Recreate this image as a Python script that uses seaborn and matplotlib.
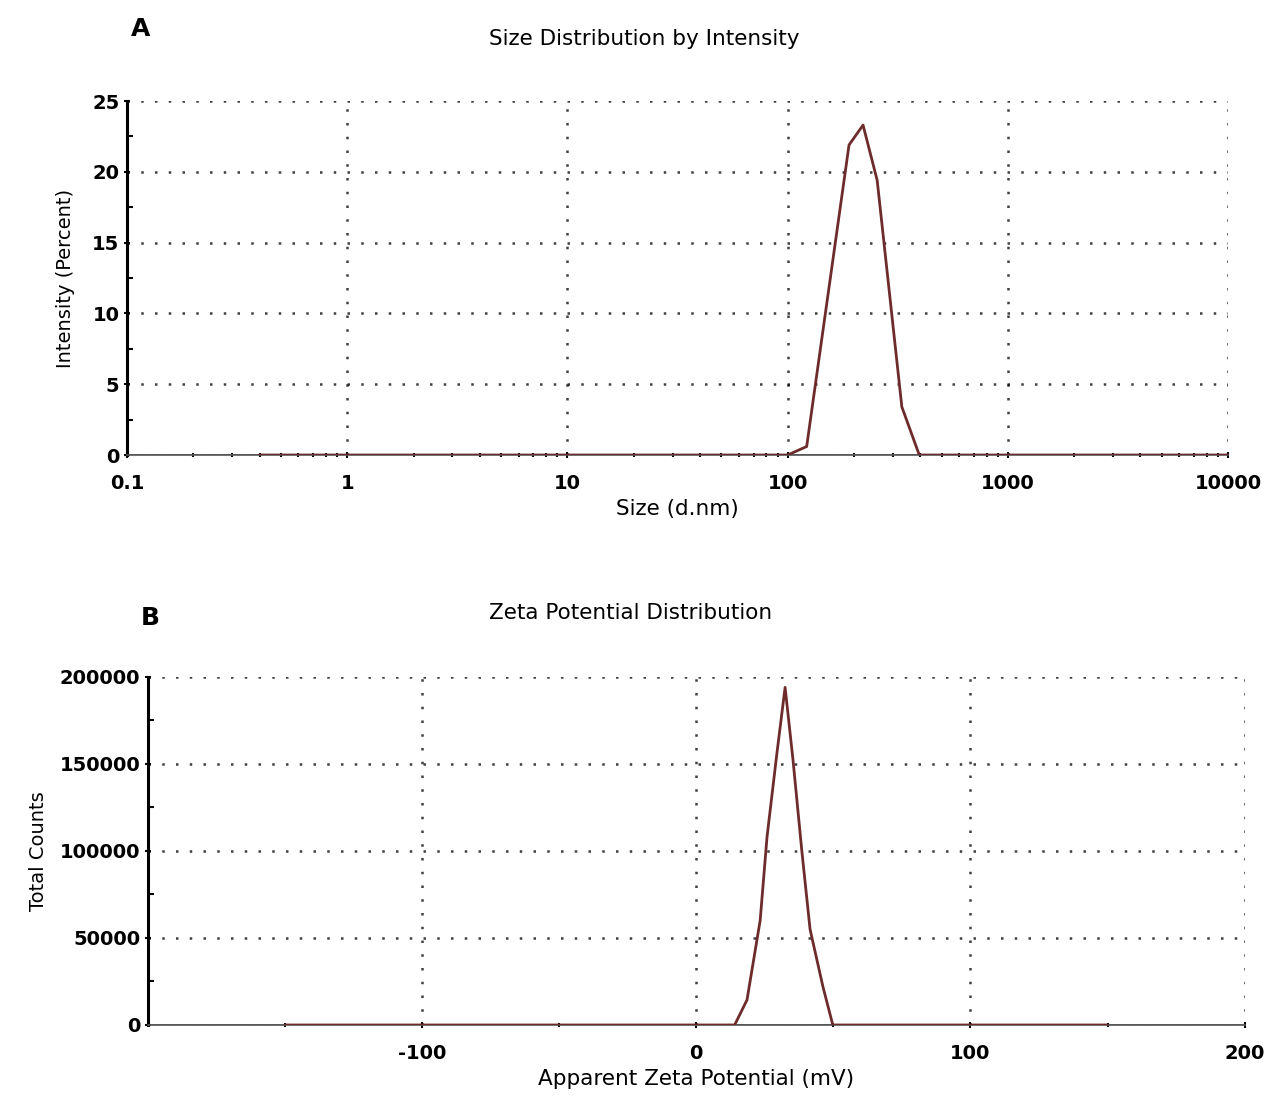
import numpy as np
import pandas as pd
import matplotlib
matplotlib.use("Agg")
import matplotlib.pyplot as plt
import seaborn as sns
from matplotlib.ticker import FixedLocator, NullFormatter

sns.set_style("white")
plt.rcParams['font.family'] = ['DejaVu Sans']
plt.rcParams['axes.unicode_minus'] = False
plt.rcParams['text.color'] = 'black'
plt.rcParams['axes.labelcolor'] = 'black'
plt.rcParams['xtick.color'] = 'black'
plt.rcParams['ytick.color'] = 'black'

# Panel A: size distribution by intensity
size_nm = [0.4, 100, 122, 190, 220, 255, 330, 396, 10000]
intensity_pct = [0, 0, 0.6, 21.9, 23.3, 19.4, 3.4, 0, 0]

# Panel B: zeta potential distribution
zeta_mv = [-150, 14, 18.5, 23.3, 25.8, 29.4, 32.4, 35.3, 38.5, 41.5, 46.2, 49.8, 150]
total_counts = [0, 0, 14400, 60000, 108000, 156000, 194000, 152000, 100000, 55000, 22000, 0, 0]

size_df = pd.DataFrame({'size': size_nm, 'intensity': intensity_pct})
zeta_df = pd.DataFrame({'zeta': zeta_mv, 'counts': total_counts})

line_col = '#6e2b2b'
grid_kw = dict(color='black', linestyle=(0, (1, 4.5)), linewidth=1.8, alpha=0.75)

fig = plt.figure(figsize=(12.7, 10.98), dpi=100)

# ---- A ----
ax1 = fig.add_axes([0.1, 0.5856, 0.867, 0.3224])
ax1.set_xscale('log')
ax1.axhline(0, color='#555555', lw=1.2, zorder=1)
sns.lineplot(data=size_df, x='size', y='intensity', ax=ax1, color=line_col,
             lw=2.0, zorder=3)
ax1.set_xlim(0.1, 10000)
ax1.set_ylim(0, 25)
ax1.set_xticks([0.1, 1, 10, 100, 1000, 10000])
ax1.set_xticklabels(['0.1', '1', '10', '100', '1000', '10000'])
ax1.xaxis.set_minor_locator(FixedLocator(
    [m * 10.0 ** e for e in range(-1, 4) for m in range(2, 10)]))
ax1.xaxis.set_minor_formatter(NullFormatter())
ax1.set_yticks([0, 5, 10, 15, 20, 25])
ax1.yaxis.set_minor_locator(FixedLocator(np.arange(2.5, 25, 5)))
ax1.grid(True, which='major', **grid_kw)
ax1.set_xlabel('Size (d.nm)', fontsize=15.5, labelpad=4)
ax1.set_ylabel('Intensity (Percent)', fontsize=14, labelpad=12)
ax1.set_title('Size Distribution by Intensity', fontsize=15.5, pad=40, x=0.47)

# ---- B ----
ax2 = fig.add_axes([0.1165, 0.0665, 0.8635, 0.317])
ax2.axhline(0, color='#555555', lw=1.2, zorder=1)
sns.lineplot(data=zeta_df, x='zeta', y='counts', ax=ax2, color=line_col,
             lw=2.0, zorder=3)
ax2.set_xlim(-200, 200)
ax2.set_ylim(0, 200000)
ax2.set_xticks([-100, 0, 100, 200])
ax2.xaxis.set_minor_locator(FixedLocator([-150, -50, 50, 150]))
ax2.set_yticks([0, 50000, 100000, 150000, 200000])
ax2.set_yticklabels(['0', '50000', '100000', '150000', '200000'])
ax2.yaxis.set_minor_locator(FixedLocator(np.arange(25000, 200000, 50000)))
ax2.grid(True, which='major', **grid_kw)
ax2.set_xlabel('Apparent Zeta Potential (mV)', fontsize=15.5, labelpad=4)
ax2.set_ylabel('Total Counts', fontsize=14, labelpad=8)
ax2.set_title('Zeta Potential Distribution', fontsize=15.5, pad=42, x=0.44)

for ax in (ax1, ax2):
    sns.despine(ax=ax)
    ax.spines['left'].set_linewidth(2.2)
    ax.spines['left'].set_color('black')
    ax.spines['bottom'].set_linewidth(1.2)
    ax.spines['bottom'].set_color('#555555')
    ax.tick_params(axis='both', which='both', bottom=True, left=True)
    ax.tick_params(axis='both', which='major', labelsize=14, length=4,
                   width=1.5, direction='inout', color='black')
    ax.tick_params(axis='both', which='minor', length=4, width=1.5,
                   direction='in', color='black')
    ax.tick_params(axis='x', which='minor', length=3, direction='inout')
    ax.tick_params(axis='x', which='major', pad=12)
    for lab in ax.get_xticklabels() + ax.get_yticklabels():
        lab.set_fontweight('bold')

fig.text(0.103, 0.974, 'A', fontsize=18, fontweight='bold', va='center')
fig.text(0.111, 0.437, 'B', fontsize=18, fontweight='bold', va='center')

fig.savefig('out.png', dpi=100, facecolor='white')
